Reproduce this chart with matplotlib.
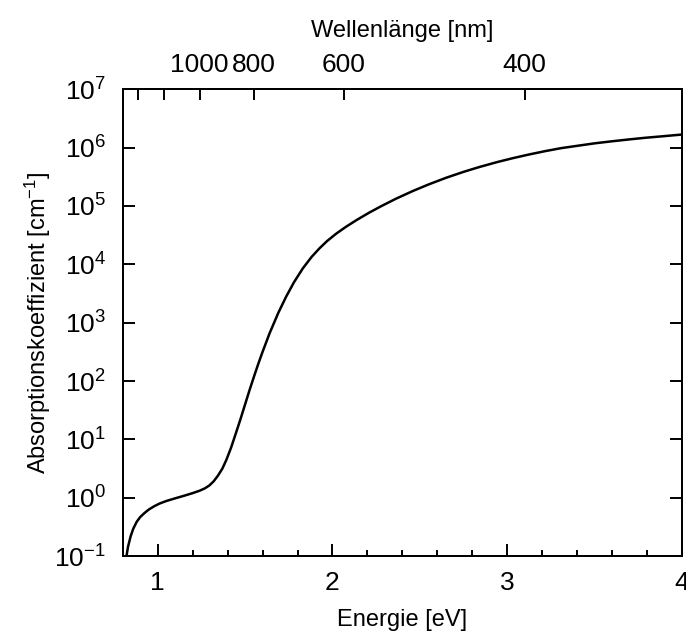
import matplotlib
matplotlib.use("Agg")
import matplotlib.pyplot as plt
from matplotlib.ticker import FixedLocator, MultipleLocator, NullLocator, LogFormatterMathtext

plt.rcParams['font.family'] = ['Liberation Sans', 'DejaVu Sans']
plt.rcParams['mathtext.fontset'] = 'custom'
plt.rcParams['mathtext.rm'] = 'Liberation Sans'
plt.rcParams['mathtext.it'] = 'Liberation Sans'

# energy in eV, absorption coefficient in 1/cm
energy = [0.821, 0.830, 0.845, 0.860, 0.880, 0.900, 0.925, 0.950, 0.980, 1.01,
          1.05, 1.10, 1.15, 1.20, 1.24, 1.27, 1.295, 1.32, 1.345, 1.37,
          1.393, 1.42, 1.45, 1.475, 1.50, 1.525, 1.55, 1.575, 1.60, 1.64,
          1.69, 1.735, 1.78, 1.83, 1.88, 1.926, 1.97, 2.02, 2.078, 2.14,
          2.21, 2.28, 2.364, 2.46, 2.55, 2.65, 2.75, 2.84, 2.94, 3.03,
          3.13, 3.22, 3.31, 3.41, 3.50, 3.60, 3.70, 3.79, 3.89, 4.00]
alpha = [0.100, 0.145, 0.219, 0.295, 0.389, 0.468, 0.550, 0.631, 0.716, 0.794,
         0.881, 0.977, 1.08, 1.20, 1.32, 1.45, 1.62, 1.91, 2.40, 3.16,
         4.47, 7.24, 13.5, 22.9, 39.8, 69.2, 117, 195, 316, 655,
         1470, 2790, 4930, 8470, 13300, 18800, 25100, 33200, 44000, 57700,
         76600, 99300, 133000, 180000, 233000, 303000, 383000, 463000, 561000, 655000,
         766000, 871000, 978000, 1.08e6, 1.18e6, 1.28e6, 1.38e6, 1.47e6, 1.56e6, 1.67e6]

x_ticks = [1, 2, 3, 4]
wl_ticks = [1400, 1200, 1000, 800, 600, 400]
wl_labels = ['', '', '1000', '800', '600', '400']
hc = 1239.84  # eV nm

fig = plt.figure(figsize=(6.86, 6.37), dpi=100)
ax = fig.add_axes([0.179, 0.127, 0.815, 0.733])

ax.plot(energy, alpha, color='black', lw=1.8)
ax.set_yscale('log')
ax.set_xlim(0.8, 4)
ax.set_ylim(1e-1, 1e7)

ax.xaxis.set_major_locator(FixedLocator(x_ticks))
ax.xaxis.set_minor_locator(MultipleLocator(0.2))
ax.yaxis.set_major_locator(FixedLocator([10.0**k for k in range(-1, 8)]))
ax.yaxis.set_major_formatter(LogFormatterMathtext())
ax.yaxis.set_minor_locator(NullLocator())

ax.tick_params(axis='both', which='both', direction='in', width=1.4, labelsize=19)
ax.tick_params(axis='x', which='major', length=9, pad=11)
ax.tick_params(axis='x', which='minor', length=4)
ax.tick_params(axis='y', which='major', length=8.5, pad=12, right=True)
for s in ax.spines.values():
    s.set_linewidth(1.4)

ax.set_xlabel('Energie [eV]', fontsize=17, labelpad=10)
ax.set_ylabel('Absorptionskoeffizient [cm$^{-1}$]', fontsize=17, labelpad=1)

top = ax.twiny()
top.set_xlim(ax.get_xlim())
top.xaxis.set_major_locator(FixedLocator([hc / w for w in wl_ticks]))
top.set_xticklabels(wl_labels)
top.xaxis.set_minor_locator(NullLocator())
top.tick_params(axis='x', direction='in', length=8, width=1.4, labelsize=19, pad=9)
for s in top.spines.values():
    s.set_linewidth(1.4)
top.set_xlabel('Wellenlänge [nm]', fontsize=17, labelpad=11)

fig.savefig('out.png', dpi=100)
